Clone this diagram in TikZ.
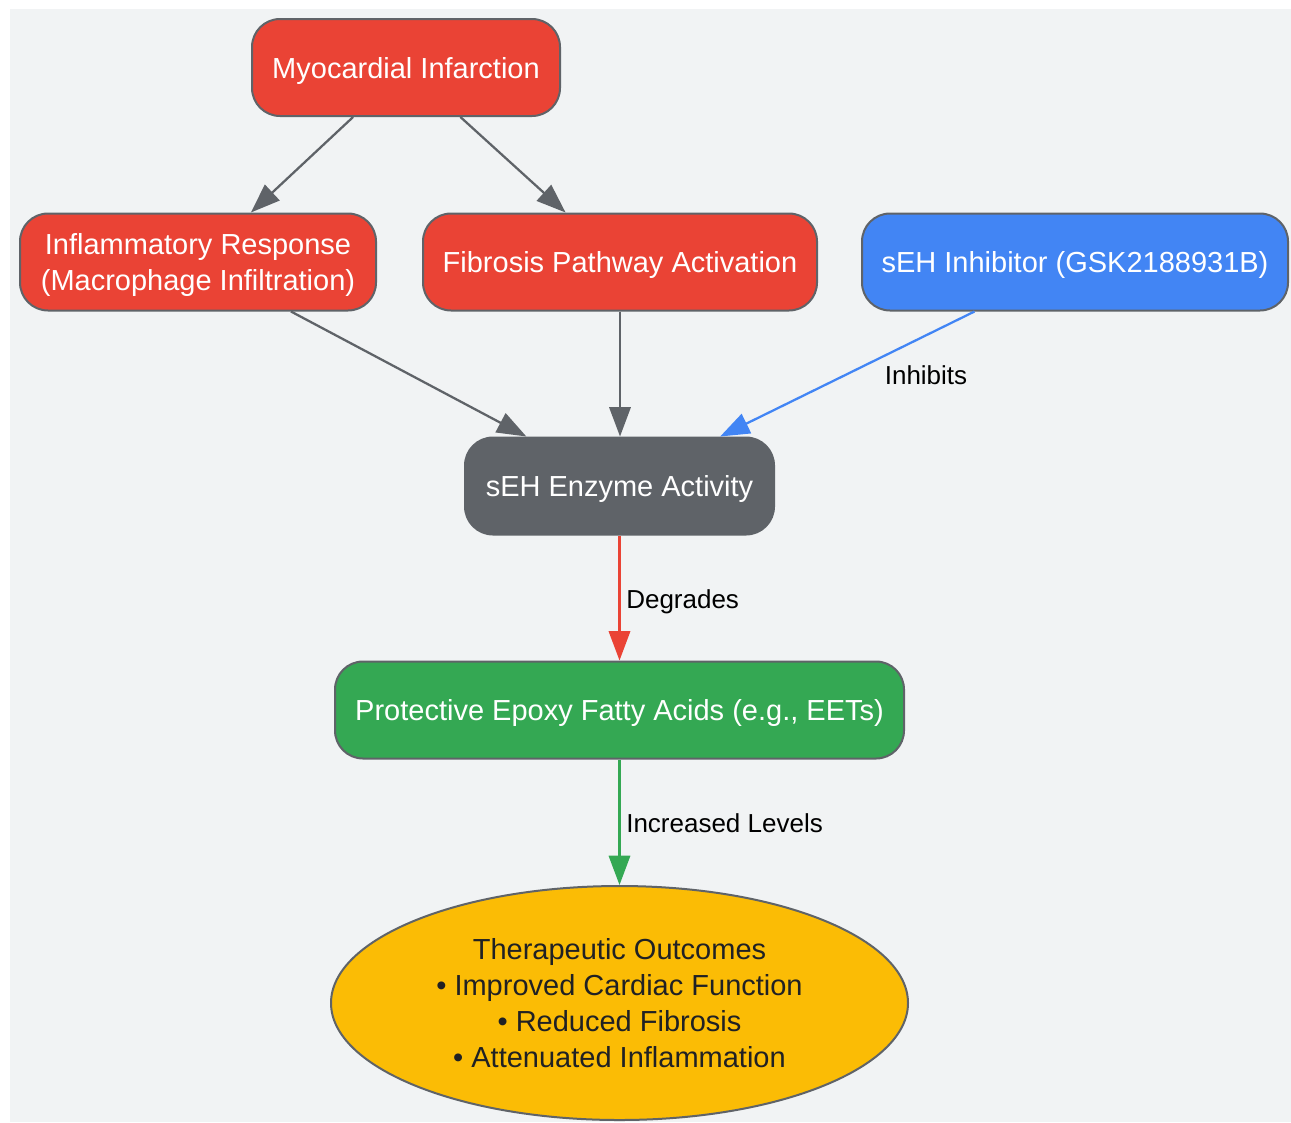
\documentclass[tikz,border=0pt]{standalone}
\usepackage{fontspec}
\setmainfont{Liberation Sans}
\usetikzlibrary{shapes.geometric,arrows.meta}
\definecolor{bgc}{HTML}{F1F3F4}
\definecolor{gred}{HTML}{EA4335}
\definecolor{gblue}{HTML}{4285F4}
\definecolor{ggreen}{HTML}{34A853}
\definecolor{gyellow}{HTML}{FBBC05}
\definecolor{ggray}{HTML}{5F6368}
\definecolor{gdark}{HTML}{202124}
\newcommand\topstrut{\rule{0pt}{20.4pt}}
\tikzset{
  box/.style={draw=ggray, line width=1.5pt, rounded corners=21pt, inner sep=0pt,
    minimum height=72.75pt, align=center, text=white,
    font=\fontsize{21.75}{27}\selectfont},
  oval/.style={draw=ggray, line width=1.5pt, ellipse, inner sep=0pt, align=center,
    text=gdark, fill=gyellow, font=\fontsize{21.75}{27}\selectfont},
  conn/.style={line width=1.7pt, -{Triangle[length=22pt,width=16pt]}},
  elabel/.style={font=\fontsize{19.5}{24}\selectfont, text=black, inner sep=0pt}
}
\begin{document}
\begin{tikzpicture}[x=0.75pt,y=-0.75pt]
\useasboundingbox (0,0) rectangle (1291,1122);
\fill[bgc] (10,9) rectangle (1291,1121.5);
\node[box, fill=gred, minimum width=231pt] (mi) at (406,67.5) {\topstrut Myocardial Infarction};
\node[box, fill=gred, minimum width=267pt] (inf) at (198,262) {\topstrut Inflammatory Response\\(Macrophage Infiltration)};
\node[box, fill=gred, minimum width=295.5pt] (fib) at (620,262) {\topstrut Fibrosis Pathway Activation};
\node[box, fill=gblue, minimum width=319.5pt] (inh) at (1075,262) {\topstrut sEH Inhibitor (GSK2188931B)};
\node[box, fill=ggray, minimum width=231.75pt] (seh) at (619.5,486) {\topstrut sEH Enzyme Activity};
\node[box, fill=ggreen, minimum width=426.75pt] (pro) at (619.5,710) {\topstrut Protective Epoxy Fatty Acids (e.g., EETs)};
\node[oval, minimum width=432.75pt, minimum height=175.5pt] (out) at (619.5,1003) {Therapeutic Outcomes\\• Improved Cardiac Function\\• Reduced Fibrosis\\• Attenuated Inflammation};
\draw[conn, ggray] (mi) -- (inf);
\draw[conn, ggray] (mi) -- (fib);
\draw[conn, ggray] (inf) -- (seh);
\draw[conn, ggray] (fib.south) -- (fib.south |- seh.north);
\draw[conn, gblue] (inh) -- (seh);
\draw[conn, gred] (seh.south) -- (seh.south |- pro.north);
\draw[conn, ggreen] (pro.south) -- (pro.south |- out.north);
\node[elabel] (l1) at (926,375) {Inhibits};
\node[elabel, anchor=west] (l2) at (626,602) {Degrades};
\node[elabel, anchor=west] (l3) at (626,823) {Increased Levels};
\end{tikzpicture}
\end{document}
